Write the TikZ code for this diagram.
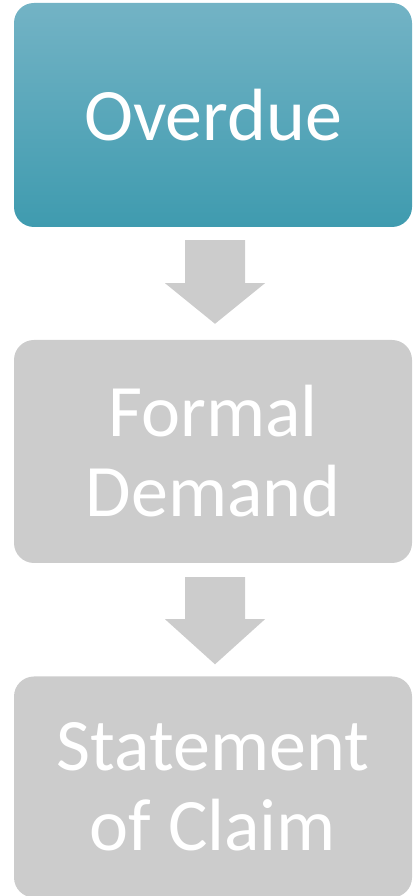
\documentclass[tikz,border=0pt]{standalone}
\usepackage{fontspec}
\setmainfont{Carlito}
\usetikzlibrary{calc}
\definecolor{tealtop}{HTML}{73B3C5}
\definecolor{tealbot}{HTML}{3F9BAF}
\definecolor{boxgray}{HTML}{CCCCCC}
\tikzset{
  stepbox/.style={rounded corners=20pt, minimum width=398pt, inner sep=0pt, align=center, text=white, font=\fontsize{74}{80}\selectfont},
  blockarrow/.style={fill=boxgray, draw=none}
}
\begin{document}
\begin{tikzpicture}[x=1pt,y=1pt]
\useasboundingbox (0,0) rectangle (413,896);
\node[stepbox, minimum height=224pt, top color=tealtop, bottom color=tealbot] (a) at (213,781) {Overdue};
\node[stepbox, minimum height=223pt, fill=boxgray] (b) at (213,444.5) {Formal\\Demand};
\node[stepbox, minimum height=221pt, fill=boxgray] (c) at (213,109) {Statement\\of Claim};
% connector a -> b
\fill[blockarrow] ($(a.south)+(-28,-13)$) -- ($(a.south)+(32,-13)$) -- ($(a.south)+(32,-56)$) -- ($(a.south)+(52,-56)$) -- ($(b.north)+(2,16)$) -- ($(a.south)+(-48,-56)$) -- ($(a.south)+(-28,-56)$) -- cycle;
% connector b -> c
\fill[blockarrow] ($(b.south)+(-28,-14)$) -- ($(b.south)+(32,-14)$) -- ($(b.south)+(32,-56)$) -- ($(b.south)+(52,-56)$) -- ($(c.north)+(2,12)$) -- ($(b.south)+(-48,-56)$) -- ($(b.south)+(-28,-56)$) -- cycle;
\end{tikzpicture}
\end{document}
